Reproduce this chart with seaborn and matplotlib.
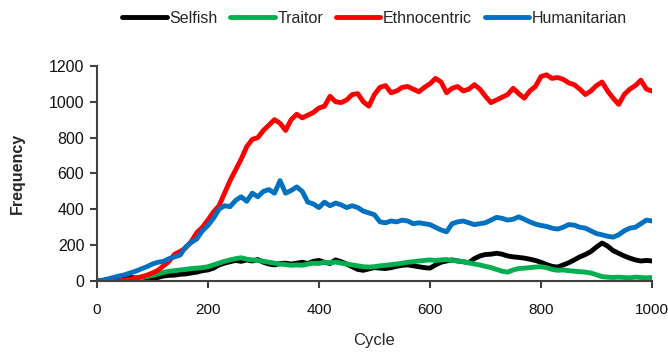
import numpy as np
import pandas as pd
import matplotlib
matplotlib.use("Agg")
import matplotlib.pyplot as plt
import seaborn as sns

cycles = list(range(0, 1001, 10))

selfish = [0, 3, 8, 12, 15, 18, 20, 18, 14, 12,
           15, 20, 28, 32, 33, 38, 40, 45, 50, 58,
           62, 72, 90, 100, 108, 115, 110, 118, 112, 120,
           105, 95, 90, 98, 100, 95, 100, 105, 98, 110,
           115, 105, 98, 118, 108, 95, 80, 65, 60, 68,
           75, 72, 70, 75, 82, 88, 90, 85, 80, 75,
           72, 90, 105, 112, 118, 112, 108, 102, 125, 140,
           148, 150, 155, 150, 140, 135, 132, 128, 122, 115,
           105, 92, 82, 78, 90, 102, 118, 135, 148, 165,
           190, 212, 195, 170, 155, 140, 128, 118, 112, 115,
           112]

traitor = [0, 0, 0, 0, 0, 2, 5, 10, 18, 25,
           32, 40, 48, 55, 58, 62, 65, 70, 72, 75,
           80, 90, 100, 110, 118, 125, 130, 122, 118, 115,
           110, 105, 100, 95, 92, 88, 90, 88, 95, 100,
           98, 105, 102, 106, 100, 95, 90, 85, 80, 78,
           80, 85, 88, 92, 95, 100, 105, 108, 112, 115,
           118, 115, 118, 120, 115, 112, 108, 102, 95, 90,
           82, 75, 65, 55, 50, 62, 70, 72, 75, 78,
           80, 75, 65, 60, 62, 58, 55, 52, 50, 45,
           35, 25, 22, 20, 22, 20, 18, 22, 20, 18,
           20]

ethnocentric = [0, 0, 0, 0, 2, 5, 10, 16, 24, 33,
                45, 60, 85, 110, 150, 165, 185, 220, 270, 300,
                340, 385, 420, 490, 560, 620, 680, 750, 790, 800,
                840, 870, 900, 880, 840, 900, 930, 910, 925, 940,
                965, 975, 1030, 1000, 995, 1010, 1040, 1045, 1000, 975,
                1040, 1080, 1090, 1050, 1060, 1080, 1085, 1070, 1055, 1080,
                1100, 1130, 1110, 1050, 1075, 1085, 1060, 1070, 1095, 1070,
                1030, 995, 1010, 1025, 1040, 1075, 1045, 1020, 1060, 1085,
                1140, 1150, 1130, 1135, 1125, 1105, 1095, 1070, 1040, 1060,
                1090, 1110, 1060, 1020, 985, 1040, 1070, 1090, 1120, 1070,
                1060]

humanitarian = [0, 5, 12, 20, 28, 35, 45, 55, 68, 80,
                95, 105, 110, 125, 135, 145, 190, 215, 235, 280,
                310, 350, 400, 420, 415, 450, 470, 445, 490, 470,
                500, 510, 490, 560, 490, 505, 525, 500, 440, 430,
                410, 440, 420, 435, 425, 410, 420, 410, 390, 380,
                370, 330, 325, 335, 330, 340, 335, 320, 325, 320,
                315, 300, 285, 275, 320, 330, 335, 325, 315, 320,
                325, 340, 355, 350, 340, 345, 358, 345, 330, 318,
                310, 305, 295, 290, 300, 315, 312, 300, 295, 280,
                265, 258, 250, 245, 258, 280, 295, 300, 320, 340,
                335]

series_names = ["Selfish", "Traitor", "Ethnocentric", "Humanitarian"]
colors = ["#000000", "#00b050", "#ff0000", "#0070c0"]

df = pd.DataFrame({
    "Cycle": cycles * 4,
    "Frequency": selfish + traitor + ethnocentric + humanitarian,
    "Strategy": sum([[n] * len(cycles) for n in series_names], []),
})

sns.set_style("ticks")
plt.rcParams["font.family"] = ["Liberation Sans", "DejaVu Sans"]

fig = plt.figure(figsize=(6.68, 3.54), dpi=100)
ax = fig.add_axes([0.145, 0.206, 0.831, 0.608])

sns.lineplot(data=df, x="Cycle", y="Frequency", hue="Strategy",
             hue_order=series_names, palette=colors, linewidth=3.5,
             ax=ax, legend=True)

ax.set_xlim(0, 1000)
ax.set_ylim(0, 1200)
ax.set_xticks([0, 200, 400, 600, 800, 1000])
ax.set_yticks([0, 200, 400, 600, 800, 1000, 1200])
ax.tick_params(axis="both", direction="out", length=5, width=1.5,
               color="#404040", labelcolor="#111111")
ax.tick_params(axis="y", labelsize=11.5, pad=4)
ax.tick_params(axis="x", labelsize=11, pad=11)
for s in ["left", "bottom"]:
    ax.spines[s].set_color("#404040")
    ax.spines[s].set_linewidth(1.5)
for s in ["top", "right"]:
    ax.spines[s].set_visible(False)

ax.set_xlabel("Cycle", fontsize=12, labelpad=11)
ax.set_ylabel("Frequency", fontsize=11.5, fontweight="bold", labelpad=17)

handles, labels = ax.get_legend_handles_labels()
ax.legend(handles, labels, loc="center", bbox_to_anchor=(0.5, 1.222),
          ncol=4, frameon=False, fontsize=11.5, handlelength=2.8,
          handletextpad=0.15, columnspacing=0.8)

fig.savefig("out.png", dpi=100)
